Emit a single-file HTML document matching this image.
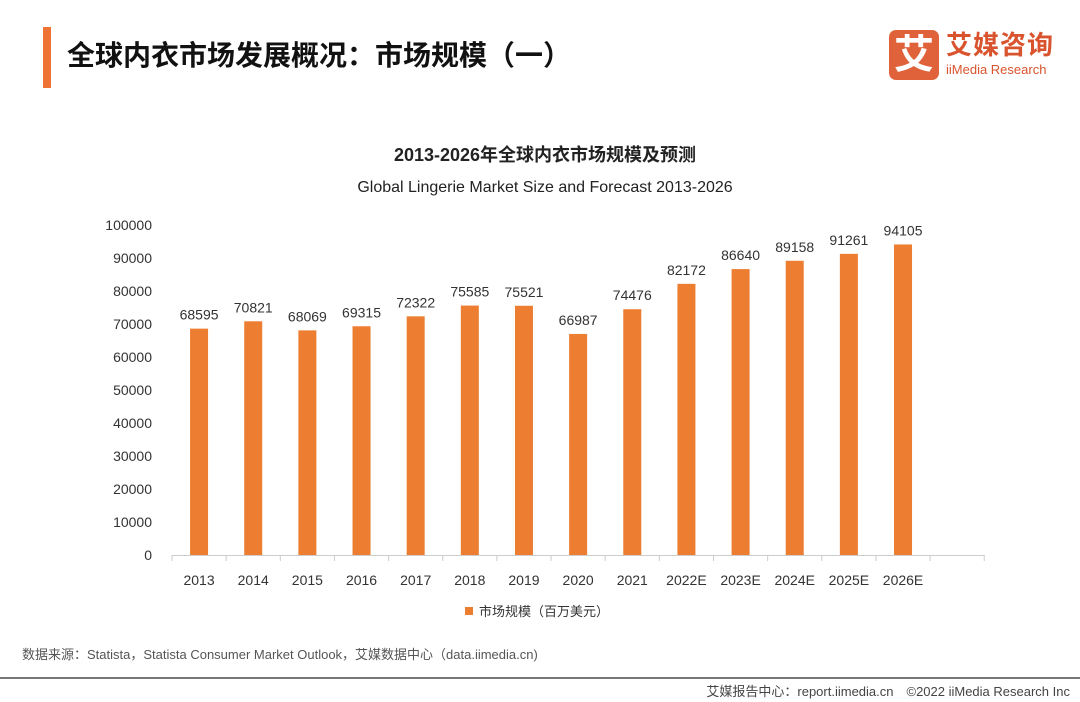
<!DOCTYPE html>
<html><head><meta charset="utf-8">
<style>
body{margin:0;width:1080px;height:702px;background:#fff;overflow:hidden;font-family:"Liberation Sans","Noto Sans CJK SC",sans-serif;position:relative}
.abs{position:absolute}
</style></head><body>
<div class="abs" style="left:43px;top:27px;width:8px;height:61px;background:#ee7234"></div>
<div class="abs" style="left:67px;top:34px;font-size:28px;font-weight:bold;color:#111">全球内衣市场发展概况：市场规模（一）</div>
<div class="abs" style="left:889px;top:30px;width:50px;height:50px;background:#e0623a;border-radius:7px;color:#fff;font-size:40px;font-weight:bold;text-align:center;line-height:50px">艾</div>
<div class="abs" style="left:946px;top:30px;font-size:26px;font-weight:bold;color:#d9542e;letter-spacing:1px;line-height:30px">艾媒咨询</div>
<div class="abs" style="left:946px;top:62px;font-size:13px;color:#d9542e">iiMedia Research</div>
<div class="abs" style="left:0;width:1090px;top:141px;text-align:center;font-size:18px;font-weight:bold;color:#222">2013-2026年全球内衣市场规模及预测</div>
<div class="abs" style="left:0;width:1090px;top:179px;text-align:center;font-size:16px;color:#222">Global Lingerie Market Size and Forecast 2013-2026</div>
<svg class="abs" style="left:0;top:0" width="1080" height="702" id="chart"></svg>
<div class="abs" style="left:22px;top:644px;font-size:13px;color:#555">数据来源：Statista，Statista Consumer Market Outlook，艾媒数据中心（data.iimedia.cn)</div>
<div class="abs" style="left:0;top:677px;width:1080px;height:2px;background:#777"></div>
<div class="abs" style="right:10px;top:681px;font-size:13px;color:#444">艾媒报告中心：report.iimedia.cn　©2022  iiMedia Research  Inc</div>
<script>
const categories=["2013","2014","2015","2016","2017","2018","2019","2020","2021","2022E","2023E","2024E","2025E","2026E"];
const values=[68595,70821,68069,69315,72322,75585,75521,66987,74476,82172,86640,89158,91261,94105];
const yTicks=[0,10000,20000,30000,40000,50000,60000,70000,80000,90000,100000];
const svg=document.getElementById('chart');const NS='http://www.w3.org/2000/svg';
const x0=172,step=54.15,y0=555,yMax=100000,yTop=225;
const y=v=>y0-(v/yMax)*(y0-yTop);
const xc=i=>x0+step*(i+0.5);
function mk(t,a){const e=document.createElementNS(NS,t);for(const k in a)e.setAttribute(k,a[k]);svg.appendChild(e);return e;}
yTicks.forEach(t=>{const e=mk('text',{x:152,y:y(t)+5,'text-anchor':'end','font-size':14,fill:'#333'});e.textContent=t;

});
const ax=mk('line',{x1:x0,x2:x0+step*15,y1:y0+0.5,y2:y0+0.5,stroke:'#ccc'});


for(let i=0;i<=15;i++){const tk=mk('line',{x1:x0+step*i,x2:x0+step*i,y1:y0,y2:y0+6,stroke:'#ccc'});

}
categories.forEach((c,i)=>{
const r=mk('rect',{x:xc(i)-9,y:y(values[i]),width:18,height:y0-y(values[i]),fill:'#ed7d31'});


const v=mk('text',{x:xc(i),y:y(values[i])-9,'text-anchor':'middle','font-size':14,fill:'#333'});v.textContent=values[i];


const l=mk('text',{x:xc(i),y:585,'text-anchor':'middle','font-size':14,fill:'#333'});l.textContent=c;

});
const lg=mk('rect',{x:465,y:607,width:8,height:8,fill:'#ed7d31'});


const lt=mk('text',{x:479,y:616,'font-size':13,fill:'#333'});lt.textContent='市场规模（百万美元）';


</script>
</body></html>
